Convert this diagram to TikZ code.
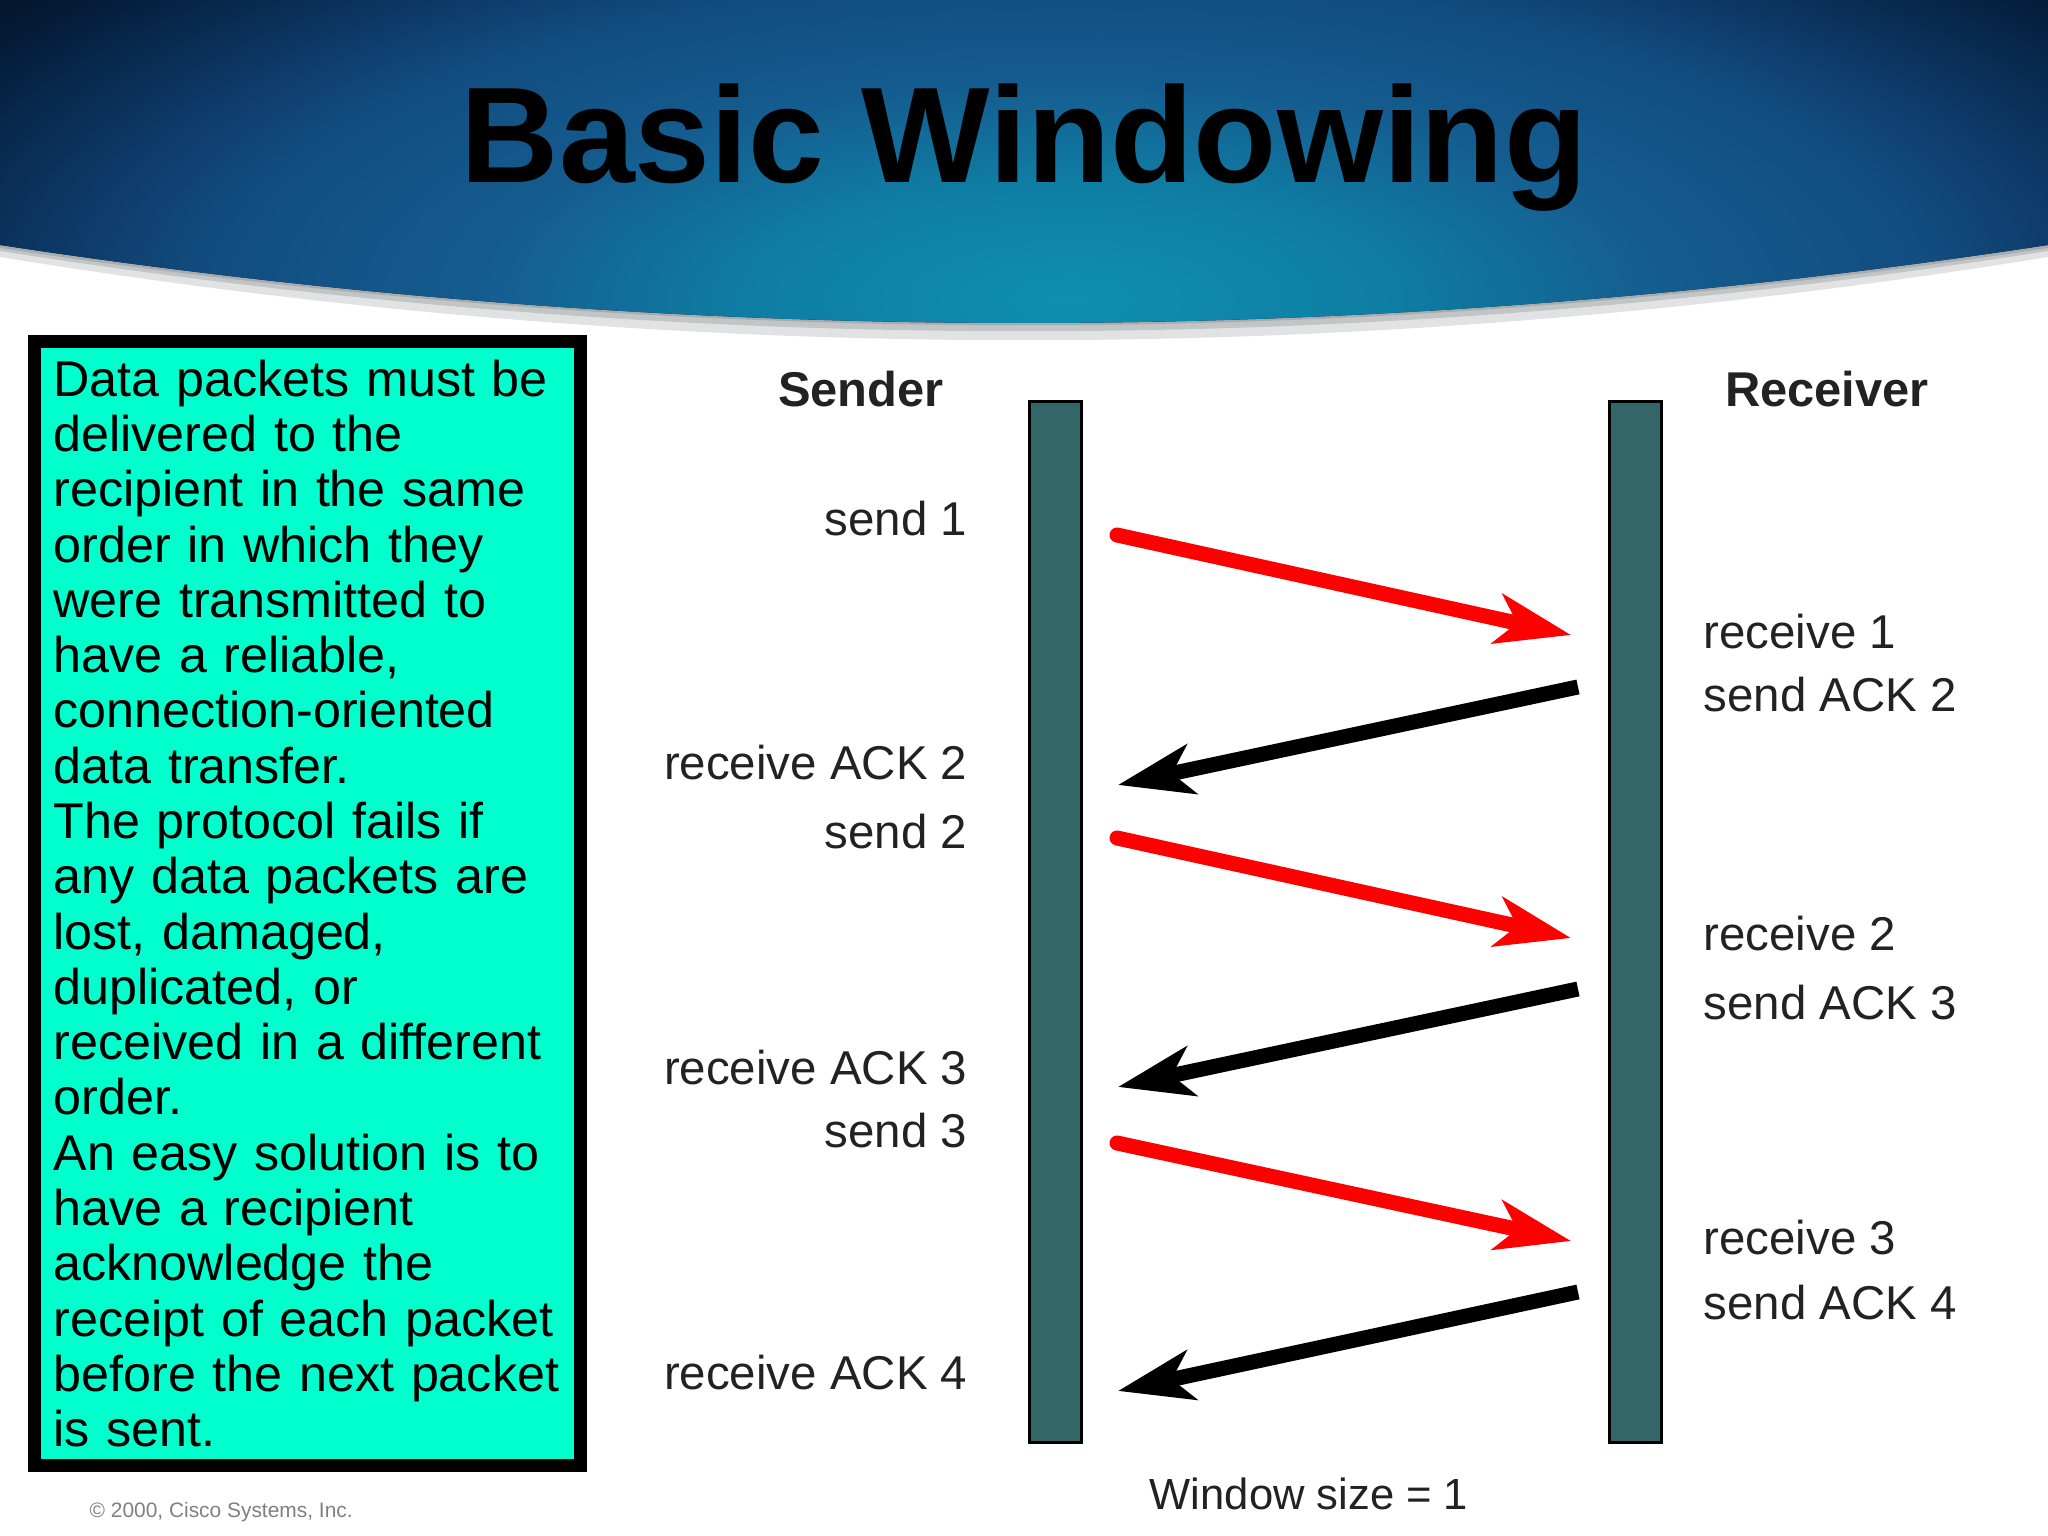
\documentclass[tikz,border=0pt]{standalone}
\usepackage{fontspec}
\setmainfont{Liberation Sans}
\usetikzlibrary{arrows.meta}
\definecolor{barfill}{HTML}{336666}
\definecolor{notefill}{HTML}{00FFCC}
\definecolor{labelgray}{HTML}{222222}
\definecolor{shadowgray}{HTML}{A8ACAE}
\definecolor{bandedge}{HTML}{041428}
\pgfdeclareradialshading{bandglow}{\pgfpoint{0bp}{0bp}}{%
  rgb(0bp)=(0.06,0.56,0.69);
  rgb(6bp)=(0.06,0.49,0.64);
  rgb(11bp)=(0.08,0.36,0.56);
  rgb(16bp)=(0.07,0.30,0.50);
  rgb(19bp)=(0.05,0.22,0.40);
  rgb(23bp)=(0.02,0.12,0.24);
  rgb(25bp)=(0.02,0.08,0.16);
  rgb(50bp)=(0.02,0.08,0.16)}
\tikzstyle{barblock} = [draw=black, line width=0.03cm, fill=barfill, minimum width=0.52cm, minimum height=10.41cm, inner sep=0pt]
\tikzstyle{notebox} = [draw=black, line width=0.13cm, fill=notefill, inner xsep=0.19cm, inner ysep=0pt, text width=5.08cm, minimum height=11.24cm, align=left, font=\fontsize{14.3pt}{15.73pt}\selectfont]
\tikzstyle{seqlabel} = [inner sep=0pt, text=labelgray, font=\fontsize{13.5pt}{16pt}\selectfont]
\tikzstyle{sendarrow} = [-{Stealth[length=0.75cm, width=0.5cm, inset=0.2cm]}, red, line width=0.15cm, line cap=round]
\tikzstyle{ackarrow} = [-{Stealth[length=0.75cm, width=0.5cm, inset=0.2cm]}, black, line width=0.15cm]

\begin{document}
\begin{tikzpicture}
      \useasboundingbox (0, 0) rectangle (20.48, 15.36);
      \fill[white] (0, 0) rectangle (20.48, 15.36);

      % banner
      \fill[shadowgray!35] (0, 12.79) .. controls (6.83, 11.68) and (13.65, 11.68) .. (20.48, 12.79) -- (20.48, 13.2) -- (0, 13.2) -- cycle;
      \fill[shadowgray!70] (0, 12.85) .. controls (6.83, 11.78) and (13.65, 11.78) .. (20.48, 12.85) -- (20.48, 13.2) -- (0, 13.2) -- cycle;
      \fill[shadowgray] (0, 12.88) .. controls (6.83, 11.85) and (13.65, 11.85) .. (20.48, 12.88) -- (20.48, 13.2) -- (0, 13.2) -- cycle;
      \begin{scope}
        \clip (0, 15.36) -- (0, 12.91) .. controls (6.83, 11.87) and (13.65, 11.87) .. (20.48, 12.91) -- (20.48, 15.36) -- cycle;
        \fill[bandedge] (0, 11.5) rectangle (20.48, 15.36);
        \shade[shading=bandglow] (10.7, 12.36) ellipse (13.5cm and 5cm);
      \end{scope}
      \node[anchor=base, inner sep=0pt, font=\fontsize{38.75pt}{44pt}\selectfont\bfseries] (title) at (10.24, 13.53) {Basic Windowing};

      % text panel
      \node[notebox, anchor=north west] (note) at (0.28, 12.01) {Data packets must be\\
        delivered to the\\
        recipient in the same\\
        order in which they\\
        were transmitted to\\
        have a reliable,\\
        connection-oriented\\
        data transfer.\\
        The protocol fails if\\
        any data packets are\\
        lost, damaged,\\
        duplicated, or\\
        received in a different\\
        order.\\
        An easy solution is to\\
        have a recipient\\
        acknowledge the\\
        receipt of each packet\\
        before the next packet\\
        is sent.};
      \node[anchor=west, inner sep=0pt, text=gray, font=\fontsize{5.95pt}{7pt}\selectfont] (copyright) at (0.89, 0.24) {© 2000, Cisco Systems, Inc.};

      % sender and receiver
      \node[barblock] (senderbar) at (10.55, 6.135) {};
      \node[barblock] (receiverbar) at (16.35, 6.135) {};
      \node[seqlabel, font=\fontsize{13.9pt}{16pt}\selectfont\bfseries] (sender) at (8.61, 11.47) {Sender};
      \node[seqlabel, font=\fontsize{13.9pt}{16pt}\selectfont\bfseries] (receiver) at (18.27, 11.47) {Receiver};

      \node[seqlabel, anchor=east] (send1) at (9.68, 10.17) {send 1};
      \node[seqlabel, anchor=east] (getack2) at (9.68, 7.73) {receive ACK 2};
      \node[seqlabel, anchor=east] (send2) at (9.68, 7.04) {send 2};
      \node[seqlabel, anchor=east] (getack3) at (9.68, 4.68) {receive ACK 3};
      \node[seqlabel, anchor=east] (send3) at (9.68, 4.05) {send 3};
      \node[seqlabel, anchor=east] (getack4) at (9.68, 1.63) {receive ACK 4};

      \node[seqlabel, anchor=west] (get1) at (17.03, 9.04) {receive 1};
      \node[seqlabel, anchor=west] (ack2) at (17.03, 8.41) {send ACK 2};
      \node[seqlabel, anchor=west] (get2) at (17.03, 6.02) {receive 2};
      \node[seqlabel, anchor=west] (ack3) at (17.03, 5.33) {send ACK 3};
      \node[seqlabel, anchor=west] (get3) at (17.03, 2.98) {receive 3};
      \node[seqlabel, anchor=west] (ack4) at (17.03, 2.33) {send ACK 4};
      \node[seqlabel, font=\fontsize{12.4pt}{16pt}\selectfont] (window) at (13.09, 0.42) {Window size = 1};

      % arrow ends
      \coordinate (s1a) at (11.17, 10.01);
      \coordinate (s1b) at (15.71, 9.01);
      \coordinate (a2a) at (15.78, 8.49);
      \coordinate (a2b) at (11.18, 7.51);
      \coordinate (s2a) at (11.17, 6.98);
      \coordinate (s2b) at (15.71, 5.98);
      \coordinate (a3a) at (15.78, 5.47);
      \coordinate (a3b) at (11.18, 4.49);
      \coordinate (s3a) at (11.17, 3.93);
      \coordinate (s3b) at (15.71, 2.95);
      \coordinate (a4a) at (15.78, 2.44);
      \coordinate (a4b) at (11.18, 1.45);

      \draw[sendarrow] (s1a) -- (s1b);
      \draw[ackarrow] (a2a) -- (a2b);
      \draw[sendarrow] (s2a) -- (s2b);
      \draw[ackarrow] (a3a) -- (a3b);
      \draw[sendarrow] (s3a) -- (s3b);
      \draw[ackarrow] (a4a) -- (a4b);
    \end{tikzpicture}
\end{document}
